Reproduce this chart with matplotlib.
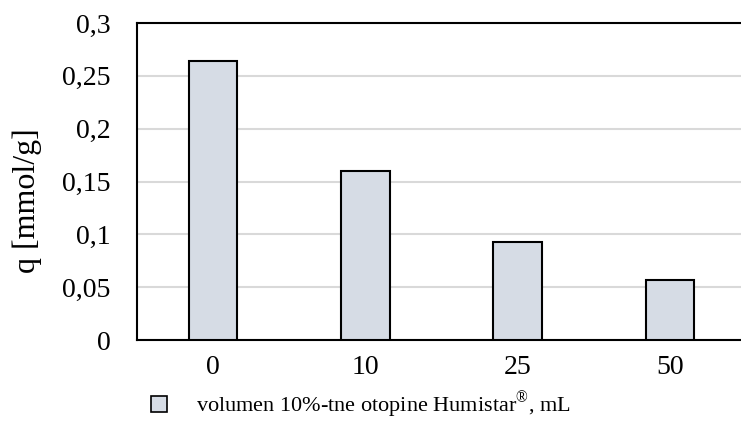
import matplotlib
matplotlib.use("Agg")
import matplotlib.pyplot as plt
from matplotlib.patches import Patch
from matplotlib.ticker import FuncFormatter

# data
categories = ["0", "10", "25", "50"]
q_values = [0.264, 0.160, 0.093, 0.057]
y_ticks = [0, 0.05, 0.1, 0.15, 0.2, 0.25, 0.3]
legend_label = "volumen 10%-tne otopine Humistar$^{\\mathrm{®}}$, mL"

bar_color = "#d6dce5"

plt.rcParams['font.family'] = ['Liberation Serif', 'DejaVu Serif']
plt.rcParams['mathtext.fontset'] = 'custom'
plt.rcParams['mathtext.rm'] = 'Liberation Serif'

fig = plt.figure(figsize=(7.41, 4.21), dpi=100)
ax = fig.add_axes([137 / 741, 1 - 340 / 421, 609 / 741, 317 / 421])

x = range(len(categories))
ax.bar(x, q_values, width=0.32, color=bar_color, edgecolor="black", linewidth=1.5, zorder=3)

ax.set_xlim(-0.5, 3.5)
ax.set_ylim(0, 0.3)
ax.set_xticks(list(x))
ax.set_xticklabels(categories)
ax.set_yticks(y_ticks)


def comma_fmt(v, pos):
    if v == 0:
        return "0"
    return "{:g}".format(round(v, 3)).replace(".", ",")


ax.yaxis.set_major_formatter(FuncFormatter(comma_fmt))
ax.grid(axis="y", color="#d9d9d9", linewidth=1.5, zorder=0)
ax.tick_params(axis="both", length=0, labelsize=20)
ax.tick_params(axis="y", pad=19)
ax.tick_params(axis="x", pad=11)

for side in ["left", "top", "bottom"]:
    ax.spines[side].set_linewidth(1.5)
    ax.spines[side].set_color("black")
ax.spines["right"].set_visible(False)

ax.set_ylabel("q [mmol/g]", fontsize=23)
ax.yaxis.set_label_coords(42 / 741, 1 - 201 / 421, transform=fig.transFigure)

handle = Patch(facecolor=bar_color, edgecolor="black", linewidth=1.2)
fig.legend([handle], [legend_label], loc="center", bbox_to_anchor=(0.487, 0.038),
           frameon=False, fontsize=16, handlelength=0.7, handleheight=0.7, handletextpad=1.3)

fig.savefig("out.png", dpi=100)
